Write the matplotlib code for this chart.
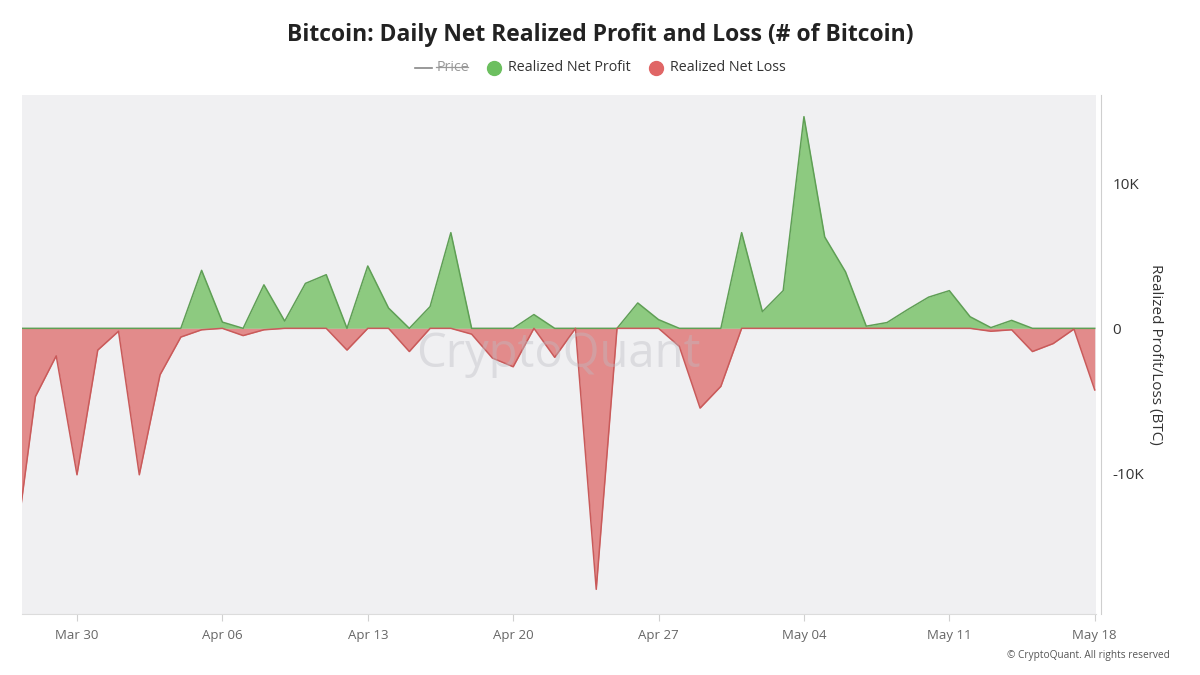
import pandas as pd
import matplotlib.pyplot as plt
import matplotlib.dates as mdates
from matplotlib.lines import Line2D
from matplotlib.ticker import FuncFormatter

plt.rcParams["font.family"] = ["Open Sans", "DejaVu Sans"]

# daily values in thousands of BTC, Mar 27 -> May 18
dates = pd.date_range("2025-03-27", "2025-05-18", freq="D")

profit_k = [
    0, 0, 0, 0, 0,                                   # Mar 27-31
    0, 0, 0, 0, 4.0, 0.43, 0, 3.0, 0.5, 3.1,         # Apr 1-10
    3.7, 0, 4.3, 1.4, 0, 1.5, 6.6, 0, 0, 0,          # Apr 11-20
    0.95, 0, 0, 0, 0, 1.75, 0.6, 0, 0, 0,            # Apr 21-30
    6.6, 1.15, 2.6, 14.6, 6.3, 3.9, 0.15, 0.4, 1.3, 2.15,  # May 1-10
    2.6, 0.8, 0.05, 0.55, 0, 0, 0, 0,                # May 11-18
]

loss_k = [
    -15.5, -4.7, -1.9, -10.1, -1.5,                  # Mar 27-31
    -0.2, -10.1, -3.2, -0.6, -0.1, 0, -0.5, -0.1, 0, 0,      # Apr 1-10
    0, -1.5, 0, 0, -1.6, 0, 0, -0.4, -2.05, -2.65,           # Apr 11-20
    0, -2.0, 0, -18.0, 0, 0, 0, -1.25, -5.5, -4.0,           # Apr 21-30
    0, 0, 0, 0, 0, 0, 0, 0, 0, 0,                            # May 1-10
    0, 0, -0.2, -0.1, -1.6, -1.05, -0.05, -4.25,             # May 11-18
]

profit = [v * 1000 for v in profit_k]
loss = [v * 1000 for v in loss_k]

tick_dates = pd.to_datetime(["2025-03-30", "2025-04-06", "2025-04-13", "2025-04-20",
                             "2025-04-27", "2025-05-04", "2025-05-11", "2025-05-18"])

green_fill = "#8dca80"
green_edge = "#5f9f55"
red_fill = "#e28b8b"
red_edge = "#c95a5a"

fig = plt.figure(figsize=(12, 6.75), dpi=100)
ax = fig.add_axes([0.018, 0.0904, 0.895, 0.769])
ax.set_facecolor("#f0f0f2")

ax.fill_between(dates, profit, 0, color=green_fill, linewidth=0)
ax.plot(dates, profit, color=green_edge, linewidth=1.1)
ax.fill_between(dates, loss, 0, color=red_fill, linewidth=0)
ax.plot(dates, loss, color=red_edge, linewidth=1.1)

ax.set_xlim(dates[0] + pd.Timedelta(hours=8), dates[-1] + pd.Timedelta(hours=1))
ax.set_ylim(-19700, 16100)

ax.set_xticks(tick_dates)
ax.xaxis.set_major_formatter(mdates.DateFormatter("%b %d"))
ax.tick_params(axis="x", colors="#d0d0d0", labelcolor="#666666", labelsize=9.5, length=5, pad=6)

ax.yaxis.tick_right()
ax.yaxis.set_label_position("right")
ax.set_yticks([-10000, 0, 10000])
ax.yaxis.set_major_formatter(FuncFormatter(lambda v, p: "0" if v == 0 else f"{int(v/1000)}K"))
ax.tick_params(axis="y", length=0, labelsize=11, labelcolor="#333333", pad=8)
ax.set_ylabel("Realized Profit/Loss (BTC)", rotation=270, labelpad=14, fontsize=11, color="#333333")

for s in ["top", "left"]:
    ax.spines[s].set_visible(False)
ax.spines["bottom"].set_color("#dcdcdc")
ax.spines["right"].set_color("#cfcfcf")
ax.spines["right"].set_position(("outward", 4))

# watermark
ax.text(0.5, 0.5, "CryptoQuant", transform=ax.transAxes, fontsize=34, color="#bdbdc3",
        alpha=0.4, ha="center", va="center", zorder=5)

fig.text(0.5, 0.948, "Bitcoin: Daily Net Realized Profit and Loss (# of Bitcoin)",
         ha="center", va="center", fontsize=16.5, fontweight="bold", color="#222222")

# legend drawn by hand
ly = 0.9
fig.add_artist(Line2D([0.346, 0.36], [ly, ly], color="#888888", linewidth=1.2))
fig.text(0.364, ly, "Price", ha="left", va="center", fontsize=10.3, color="#999999")
fig.add_artist(Line2D([0.363, 0.39], [ly + 0.001, ly + 0.001], color="#999999", linewidth=0.9))
fig.add_artist(Line2D([0.412], [ly], marker="o", markersize=10, color="#6cbf5f", linestyle="none"))
fig.text(0.423, ly, "Realized Net Profit", ha="left", va="center", fontsize=10.3, color="#333333")
fig.add_artist(Line2D([0.547], [ly], marker="o", markersize=10, color="#e06666", linestyle="none"))
fig.text(0.558, ly, "Realized Net Loss", ha="left", va="center", fontsize=10.3, color="#333333")

fig.text(0.975, 0.029, "© CryptoQuant. All rights reserved", ha="right", va="center",
         fontsize=7.3, color="#555555")

fig.savefig("out.png", dpi=100, facecolor="white")
